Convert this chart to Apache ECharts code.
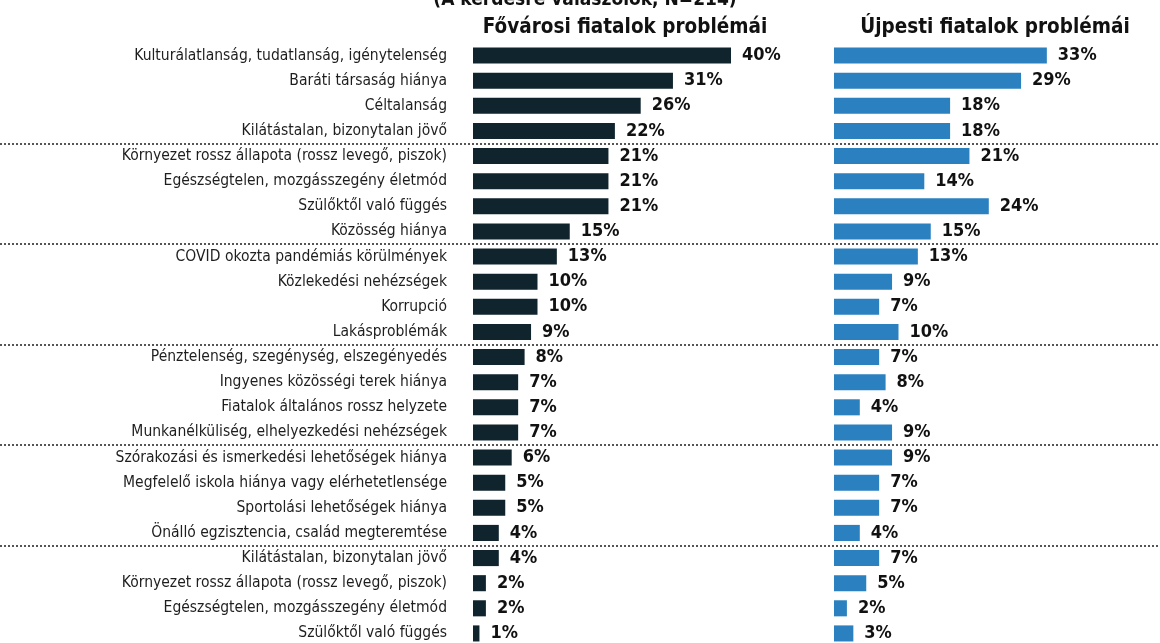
<!DOCTYPE html>
<html>
<head>
<meta charset="utf-8">
<title>Fiatalok problémái</title>
<script src="https://cdn.jsdelivr.net/npm/echarts@6/dist/echarts.min.js"></script>
<style>
    html, body { margin: 0; padding: 0; background: #fff; }
    #chart { width: 1160px; height: 643px; }
</style>
</head>
<body>
<div id="chart"></div>
<script>
    // problémák (felülről lefelé)
    var categories = [
        'Kulturálatlanság, tudatlanság, igénytelenség',
        'Baráti társaság hiánya',
        'Céltalanság',
        'Kilátástalan, bizonytalan jövő',
        'Környezet rossz állapota (rossz levegő, piszok)',
        'Egészségtelen, mozgásszegény életmód',
        'Szülőktől való függés',
        'Közösség hiánya',
        'COVID okozta pandémiás körülmények',
        'Közlekedési nehézségek',
        'Korrupció',
        'Lakásproblémák',
        'Pénztelenség, szegénység, elszegényedés',
        'Ingyenes közösségi terek hiánya',
        'Fiatalok általános rossz helyzete',
        'Munkanélküliség, elhelyezkedési nehézségek',
        'Szórakozási és ismerkedési lehetőségek hiánya',
        'Megfelelő iskola hiánya vagy elérhetetlensége',
        'Sportolási lehetőségek hiánya',
        'Önálló egzisztencia, család megteremtése',
        'Kilátástalan, bizonytalan jövő ',
        'Környezet rossz állapota (rossz levegő, piszok) ',
        'Egészségtelen, mozgásszegény életmód ',
        'Szülőktől való függés '
    ];
    var fovarosi = [40, 31, 26, 22, 21, 21, 21, 15, 13, 10, 10, 9, 8, 7, 7, 7, 6, 5, 5, 4, 4, 2, 2, 1];
    var ujpesti = [33, 29, 18, 18, 21, 14, 24, 15, 13, 9, 7, 10, 7, 8, 4, 9, 9, 7, 7, 4, 7, 5, 2, 3];
    var titles = ['(A kérdésre válaszolók, N=214)', 'Fővárosi fiatalok problémái', 'Újpesti fiatalok problémái'];

    var W = 1160;
    var pxPerPct = 6.45;   // egy százalékpont szélessége
    var zeroLeft = 473;    // fővárosi oszlopok kezdete
    var zeroRight = 834;   // újpesti oszlopok kezdete

    var narrow = '"DejaVu Sans Condensed", "Liberation Sans", sans-serif';

    var myChart = echarts.init(document.getElementById('chart'));

    var labelStyle = {
        show: true,
        position: 'right',
        distance: 11,
        formatter: '{c}%',
        fontFamily: narrow,
        fontWeight: 'bold',
        fontSize: 18,
        color: '#111'
    };

    var option = {
        animation: false,
        graphic: [
            {type: 'text', x: 585, y: 0, style: {text: titles[0], fontFamily: narrow, fontWeight: 'bold', fontSize: 19, fill: '#111', textAlign: 'center', textVerticalAlign: 'middle'}},
            {type: 'text', x: 625, y: 28, style: {text: titles[1], fontFamily: narrow, fontWeight: 'bold', fontSize: 20.5, fill: '#111', textAlign: 'center', textVerticalAlign: 'middle'}},
            {type: 'text', x: 995, y: 28, style: {text: titles[2], fontFamily: narrow, fontWeight: 'bold', fontSize: 20.5, fill: '#111', textAlign: 'center', textVerticalAlign: 'middle'}}
        ],
        grid: {
            left: 0,
            right: 0,
            top: 43,
            height: 603,
            outerBoundsMode: 'none'
        },
        xAxis: [
            {
                type: 'value',
                show: false,
                min: -zeroLeft / pxPerPct,
                max: (W - zeroLeft) / pxPerPct
            },
            {
                type: 'value',
                show: false,
                min: -zeroRight / pxPerPct,
                max: (W - zeroRight) / pxPerPct
            }
        ],
        yAxis: {
            type: 'category',
            inverse: true,
            position: 'left',
            offset: -zeroLeft,   // a tengely a fővárosi oszlopok elejére kerül
            data: categories,
            axisLine: {show: false, onZero: false},
            axisTick: {show: false},
            axisLabel: {
                margin: 26,
                fontFamily: narrow,
                fontSize: 15.5,
                color: '#1e1e1e',
                formatter: function (v) { return v.trim(); }
            },
            splitLine: {
                show: true,
                interval: function (index) {
                    return index > 0 && index < categories.length && index % 4 === 0;
                },
                lineStyle: {color: '#555', width: 2, type: [2, 2]}
            }
        },
        series: [
            {
                name: titles[1],
                type: 'bar',
                xAxisIndex: 0,
                data: fovarosi,
                barCategoryGap: '36%',
                barGap: '-100%',
                itemStyle: {color: '#10242e'},
                label: labelStyle
            },
            {
                name: titles[2],
                type: 'bar',
                xAxisIndex: 1,
                data: ujpesti,
                barCategoryGap: '36%',
                barGap: '-100%',
                itemStyle: {color: '#2b80c0'},
                label: labelStyle
            }
        ]
    };
    myChart.setOption(option);
</script>
</body>
</html>
